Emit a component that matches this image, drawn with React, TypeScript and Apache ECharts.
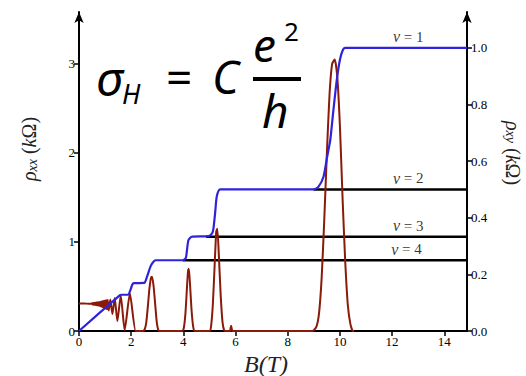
import React, { useEffect, useRef } from "react";
import * as echarts from "echarts";

// Tick values
const xTicks = [0, 2, 4, 6, 8, 10, 12, 14];
const leftTicks = [0, 1, 2, 3];
const rightTicks = [0, 0.2, 0.4, 0.6, 0.8, 1.0];

// rho_xx (kOhm) vs B (T), left axis
const rhoXX: [number, number][] = [
  [0, 0.31], [0.2, 0.31], [0.4, 0.305], [0.46, 0.305],
  [0.48, 0.3], [0.5, 0.312], [0.52, 0.298], [0.54, 0.314], [0.56, 0.296],
  [0.58, 0.316], [0.6, 0.294], [0.62, 0.318], [0.64, 0.292], [0.66, 0.32],
  [0.68, 0.289], [0.7, 0.322], [0.72, 0.286], [0.74, 0.324], [0.76, 0.283],
  [0.78, 0.326], [0.8, 0.28], [0.82, 0.328], [0.84, 0.276], [0.86, 0.331],
  [0.88, 0.272], [0.9, 0.334], [0.92, 0.267], [0.94, 0.337], [0.96, 0.262],
  [0.98, 0.34], [1.0, 0.256], [1.02, 0.343], [1.04, 0.25], [1.06, 0.346],
  [1.08, 0.243], [1.1, 0.349], [1.14, 0.23], [1.2, 0.355], [1.28, 0.19],
  [1.37, 0.37], [1.47, 0.11], [1.6, 0.4], [1.75, 0.01], [1.95, 0.42],
  [2.17, 0.0], [2.3, 0.0],
  [2.45, 0.0], [2.52, 0.02], [2.58, 0.1], [2.64, 0.28], [2.7, 0.48],
  [2.76, 0.6], [2.8, 0.61], [2.86, 0.5], [2.92, 0.3], [2.98, 0.1],
  [3.04, 0.01], [3.1, 0.0],
  [3.95, 0.0], [4.02, 0.04], [4.08, 0.2], [4.13, 0.45], [4.18, 0.68],
  [4.21, 0.7], [4.26, 0.5], [4.31, 0.25], [4.37, 0.06], [4.43, 0.0],
  [5.0, 0.0], [5.06, 0.05], [5.13, 0.3], [5.2, 0.75], [5.26, 1.12],
  [5.3, 1.15], [5.36, 0.85], [5.43, 0.4], [5.5, 0.1], [5.56, 0.01],
  [5.62, 0.0], [5.78, 0.0], [5.83, 0.06], [5.88, 0.0], [6.0, 0.0],
  [8.95, 0.0], [9.1, 0.05], [9.2, 0.2], [9.3, 0.6], [9.4, 1.25],
  [9.5, 2.0], [9.6, 2.65], [9.7, 3.0], [9.8, 3.05], [9.9, 2.85],
  [10.0, 2.3], [10.1, 1.5], [10.2, 0.8], [10.3, 0.3], [10.4, 0.08],
  [10.5, 0.0], [10.55, 0.0],
];

// rho_xy (kOhm) vs B (T), right axis
const rhoXY: [number, number][] = [
  [0, 0], [1.57, 0.127], [1.62, 0.128], [1.89, 0.128], [1.95, 0.14],
  [2.05, 0.165], [2.1, 0.169], [2.5, 0.17], [2.6, 0.19], [2.75, 0.23],
  [2.88, 0.247], [2.95, 0.25], [4.0, 0.25], [4.1, 0.26], [4.19, 0.32],
  [4.32, 0.333], [4.96, 0.335], [5.1, 0.345], [5.15, 0.36], [5.22, 0.42],
  [5.28, 0.475], [5.41, 0.5], [9.0, 0.5], [9.18, 0.51], [9.37, 0.545],
  [9.5, 0.61], [9.63, 0.675], [9.75, 0.78], [9.88, 0.887], [10.0, 0.958],
  [10.1, 0.99], [10.2, 1.0], [14.87, 1.0],
];

// Quantised plateau reference lines
const nu4Line: [number, number][] = [[3.98, 0.25], [14.87, 0.25]];
const nu3Line: [number, number][] = [[4.87, 0.333], [14.87, 0.333]];
const nu2Line: [number, number][] = [[8.99, 0.5], [14.87, 0.5]];
const nuLabels = [
  { name: "1", value: [12.62, 1.0] },
  { name: "2", value: [12.62, 0.5] },
  { name: "3", value: [12.62, 0.333] },
  { name: "4", value: [12.55, 0.25] },
];

const SERIF = "'Liberation Serif', 'DejaVu Serif', serif";
const MATH = "'Noto Sans', 'DejaVu Sans', sans-serif";

export default function App() {
  const ref = useRef<HTMLDivElement>(null);
  useEffect(() => {
    if (!ref.current) return;
    const chart = echarts.init(ref.current, undefined, { renderer: "svg" });
    const axisCommon = {
      axisLine: { show: true, lineStyle: { color: "#000", width: 2 } },
      axisTick: { show: true, length: 5, lineStyle: { color: "#000", width: 1.5 } },
      splitLine: { show: false },
    };
    const blackLine = (data: [number, number][]) => ({
      type: "line",
      yAxisIndex: 1,
      data,
      symbol: "none",
      lineStyle: { color: "#000", width: 2.5 },
      silent: true,
    });
    chart.setOption({
      animation: false,
      backgroundColor: "#fff",
      grid: { left: 79, right: 59, top: 12, bottom: 45 },
      xAxis: {
        type: "value",
        min: 0,
        max: 14.87,
        ...axisCommon,
        axisTick: { ...axisCommon.axisTick, customValues: xTicks },
        axisLabel: {
          customValues: xTicks,
          margin: 4,
          fontFamily: SERIF,
          fontSize: 13,
          color: "#000",
        },
      },
      yAxis: [
        {
          type: "value",
          min: 0,
          max: 3.584,
          ...axisCommon,
          axisLine: {
            ...axisCommon.axisLine,
            symbol: ["none", "arrow"],
            symbolSize: [7, 11],
          },
          axisTick: { ...axisCommon.axisTick, customValues: leftTicks },
          axisLabel: {
            customValues: leftTicks,
            margin: 4,
            fontFamily: SERIF,
            fontSize: 13,
            color: "#000",
          },
        },
        {
          type: "value",
          min: 0,
          max: 1.127,
          position: "right",
          ...axisCommon,
          axisLine: {
            ...axisCommon.axisLine,
            symbol: ["none", "arrow"],
            symbolSize: [7, 11],
          },
          axisTick: { ...axisCommon.axisTick, customValues: rightTicks },
          axisLabel: {
            customValues: rightTicks,
            margin: 4,
            fontFamily: SERIF,
            fontSize: 13,
            color: "#000",
            formatter: (v: number) => v.toFixed(1),
          },
        },
      ],
      series: [
        blackLine(nu4Line),
        blackLine(nu3Line),
        blackLine(nu2Line),
        {
          type: "line",
          yAxisIndex: 0,
          data: rhoXX,
          symbol: "none",
          smooth: 0.2,
          lineStyle: { color: "#8a1a0a", width: 2 },
        },
        {
          type: "line",
          yAxisIndex: 1,
          data: rhoXY,
          symbol: "none",
          smooth: 0.2,
          lineStyle: { color: "#2f22dd", width: 2.2 },
        },
        {
          type: "scatter",
          yAxisIndex: 1,
          data: nuLabels,
          symbolSize: 0,
          label: {
            show: true,
            position: "top",
            distance: 3,
            formatter: (p: any) => "{i|ν} = " + p.name,
            fontFamily: SERIF,
            fontSize: 15,
            color: "#000",
            rich: { i: { fontFamily: SERIF, fontStyle: "italic", fontSize: 16, color: "#000" } },
          },
        },
      ],
      graphic: [
        // formula
        { type: "text", x: 96, y: 77, style: { text: "σ", font: "italic 48px " + MATH, fill: "#000", verticalAlign: "middle" } },
        { type: "text", x: 122, y: 93, style: { text: "H", font: "italic 27px " + MATH, fill: "#000", verticalAlign: "middle" } },
        { type: "text", x: 166, y: 76, style: { text: "=", font: "46px " + MATH, fill: "#000", verticalAlign: "middle" } },
        { type: "text", x: 212, y: 76, style: { text: "C", font: "italic 46px " + MATH, fill: "#000", verticalAlign: "middle" } },
        { type: "rect", shape: { x: 253, y: 77, width: 48, height: 4 }, style: { fill: "#000" } },
        { type: "text", x: 253, y: 44, style: { text: "e", font: "italic 46px " + MATH, fill: "#000", verticalAlign: "middle" } },
        { type: "text", x: 284, y: 31, style: { text: "2", font: "26px " + MATH, fill: "#000", verticalAlign: "middle" } },
        { type: "text", x: 262, y: 110, style: { text: "h", font: "italic 46px " + MATH, fill: "#000", verticalAlign: "middle" } },
        // axis titles
        {
          type: "text",
          x: 29,
          y: 149,
          rotation: Math.PI / 2,
          style: {
            text: "{i|ρ}{s|xx}{n| (}{i|k}{n|Ω)}",
            align: "center",
            verticalAlign: "middle",
            rich: {
              i: { fontFamily: SERIF, fontStyle: "italic", fontSize: 20, fill: "#222" },
              s: { fontFamily: SERIF, fontStyle: "italic", fontSize: 14, fill: "#222", verticalAlign: "bottom", lineHeight: 16 },
              n: { fontFamily: SERIF, fontSize: 20, fill: "#222" },
            },
          },
        },
        {
          type: "text",
          x: 513,
          y: 153,
          rotation: -Math.PI / 2,
          style: {
            text: "{i|ρ}{s|xy}{n| (}{i|k}{n|Ω)}",
            align: "center",
            verticalAlign: "middle",
            rich: {
              i: { fontFamily: SERIF, fontStyle: "italic", fontSize: 20, fill: "#222" },
              s: { fontFamily: SERIF, fontStyle: "italic", fontSize: 14, fill: "#222", verticalAlign: "bottom", lineHeight: 16 },
              n: { fontFamily: SERIF, fontSize: 20, fill: "#222" },
            },
          },
        },
        {
          type: "text",
          x: 266,
          y: 364,
          style: {
            text: "B(T)",
            font: "italic 24px " + SERIF,
            fill: "#222",
            align: "center",
            verticalAlign: "middle",
          },
        },
      ],
    });
    return () => chart.dispose();
  }, []);
  return (
    <div
      ref={ref}
      style={{ position: "fixed", left: 0, top: 0, width: 526, height: 376, background: "#fff" }}
    />
  );
}
